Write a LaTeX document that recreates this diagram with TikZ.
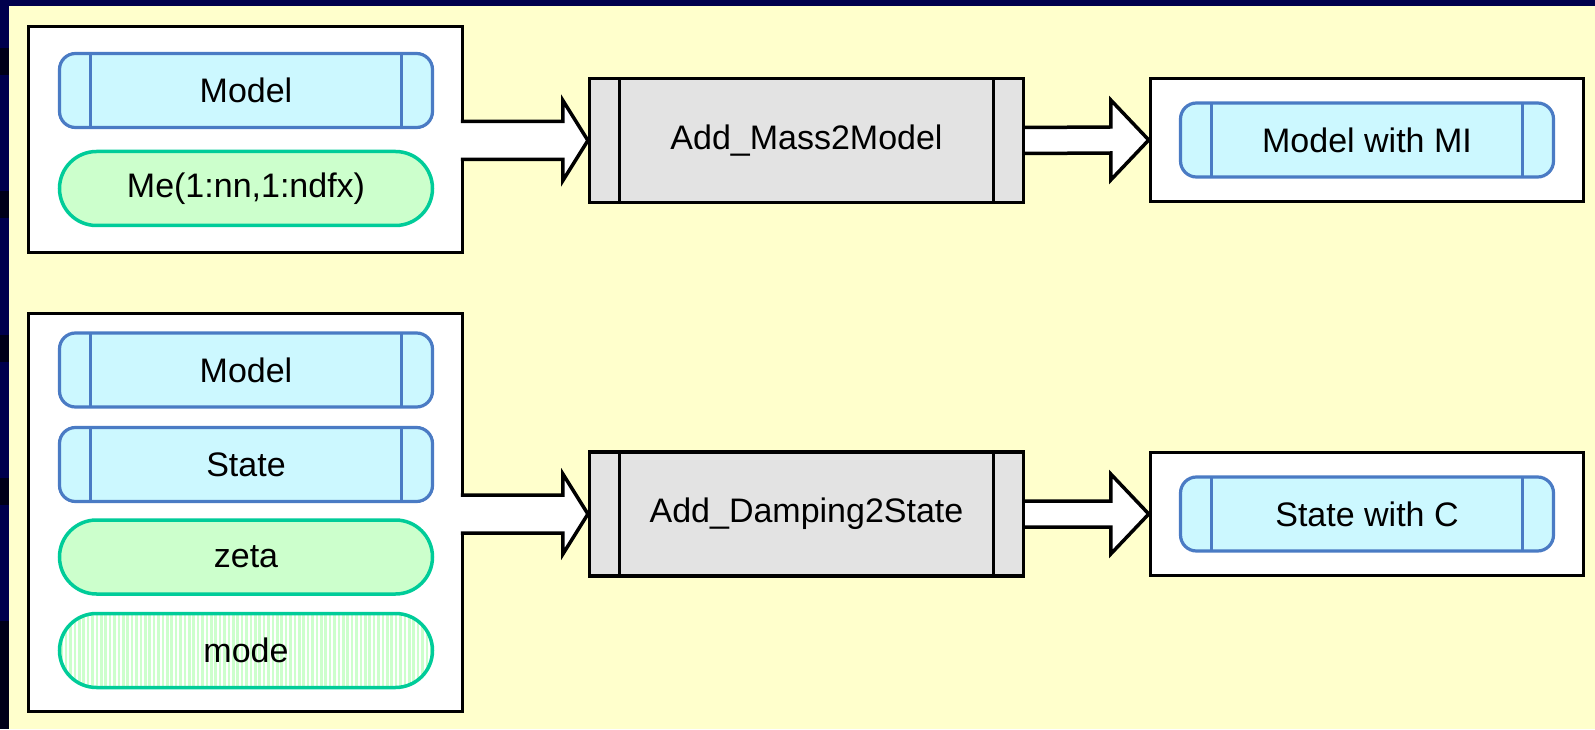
\documentclass[tikz,border=0pt]{standalone}
\usepackage{fontspec}
\setmainfont{Liberation Sans}
\usepackage{tikz}
\usetikzlibrary{calc,patterns.meta}
\usepackage{xcolor}
\definecolor{navy}{HTML}{00004D}
\definecolor{navydark}{HTML}{000018}
\definecolor{bgyellow}{HTML}{FFFFCC}
\definecolor{clsfill}{HTML}{CCF8FF}
\definecolor{clsline}{HTML}{4A7BC4}
\definecolor{varfill}{HTML}{CCFFCC}
\definecolor{varline}{HTML}{00CC99}
\definecolor{funcfill}{HTML}{E3E3E3}

\begin{document}
\begin{tikzpicture}[x=0.5pt,y=0.5pt,line join=miter]
  \tikzstyle{frame}=[rectangle,draw,line width=1.75pt,fill=white,inner sep=0pt]
  \tikzstyle{cls}=[rectangle,rounded corners=8pt,draw=clsline,fill=clsfill,line width=1.6pt,
    minimum width=186.5pt,minimum height=37pt,inner sep=0pt,font=\fontsize{17pt}{20pt}\selectfont,
    path picture={\draw[clsline,line width=1.6pt]
      ([xshift=15.5pt]path picture bounding box.south west)--([xshift=15.5pt]path picture bounding box.north west)
      ([xshift=-15.5pt]path picture bounding box.south east)--([xshift=-15.5pt]path picture bounding box.north east);}]
  \tikzstyle{var}=[rectangle,rounded corners=18.5pt,draw=varline,fill=varfill,line width=1.75pt,
    minimum width=186.5pt,minimum height=37pt,inner sep=0pt,font=\fontsize{17pt}{20pt}\selectfont]
  \tikzstyle{opt}=[var,fill=none,pattern={Lines[angle=90,distance=2.2pt,line width=1.3pt]},pattern color=varfill]
  \tikzstyle{func}=[rectangle,draw,fill=funcfill,line width=1.6pt,minimum width=217pt,minimum height=62pt,
    inner sep=0pt,font=\fontsize{17pt}{20pt}\selectfont,
    path picture={\draw[line width=1.6pt]
      ([xshift=15pt]path picture bounding box.south west)--([xshift=15pt]path picture bounding box.north west)
      ([xshift=-15pt]path picture bounding box.south east)--([xshift=-15pt]path picture bounding box.north east);}]
  \tikzstyle{barrow}=[draw,fill=white,line width=1.75pt]

  % background
  \useasboundingbox (0,0) rectangle (1595,729);
  \fill[navy] (0,0) rectangle (1595,729);
  \foreach \y in {654,511,367,224} \fill[navydark] (0,\y) rectangle (9,\y+27);
  \fill[navydark] (0,0) rectangle (9,108);
  \fill[bgyellow] (9,0) rectangle (1595,723);

  % mass
  \node(in1) at (245.5,589.5)[frame,minimum width=217pt,minimum height=113pt]{};
  \node(model1) at (246,638.5)[cls]{Model};
  \node(me) at (246,540.5)[var]{Me(1:nn,1:ndfx)};
  \node(mass) at (806.5,588.5)[func]{Add\_Mass2Model};
  \node(out1) at (1367,589)[frame,minimum width=216.5pt,minimum height=61.5pt]{};
  \node(modelmi) at (1367,589)[cls]{Model with MI};

  % damping
  \node(in2) at (245.5,216.5)[frame,minimum width=217pt,minimum height=199pt]{};
  \node(model2) at (246,359)[cls]{Model};
  \node(state) at (246,264.5)[cls]{State};
  \node(zeta) at (246,172)[var]{zeta};
  \node(mode) at (246,78.5)[opt]{mode};
  \node(damp) at (806.5,215)[func]{Add\_Damping2State};
  \node(out2) at (1367,215)[frame,minimum width=216.5pt,minimum height=61.5pt]{};
  \node(statec) at (1367,215)[cls]{State with C};

  % block arrows
  \draw[barrow] ($(in1.east|-mass.west)+(-3.5,19)$)--($(mass.west)+(-25,19)$)--($(mass.west)+(-25,40)$)--(mass.west)
    --($(mass.west)+(-25,-40)$)--($(mass.west)+(-25,-19)$)--($(in1.east|-mass.west)+(-3.5,-19)$);
  \draw[barrow] ($(mass.east)+(0,13)$)--($(out1.west)+(-38,13)$)--($(out1.west)+(-38,40)$)--(out1.west)
    --($(out1.west)+(-38,-40)$)--($(out1.west)+(-38,-13)$)--($(mass.east)+(0,-13)$);
  \draw[barrow] ($(in2.east|-damp.west)+(-3.5,19)$)--($(damp.west)+(-25,19)$)--($(damp.west)+(-25,40)$)--(damp.west)
    --($(damp.west)+(-25,-40)$)--($(damp.west)+(-25,-19)$)--($(in2.east|-damp.west)+(-3.5,-19)$);
  \draw[barrow] ($(damp.east)+(0,13)$)--($(out2.west)+(-38,13)$)--($(out2.west)+(-38,40)$)--(out2.west)
    --($(out2.west)+(-38,-40)$)--($(out2.west)+(-38,-13)$)--($(damp.east)+(0,-13)$);
\end{tikzpicture}
\end{document}
